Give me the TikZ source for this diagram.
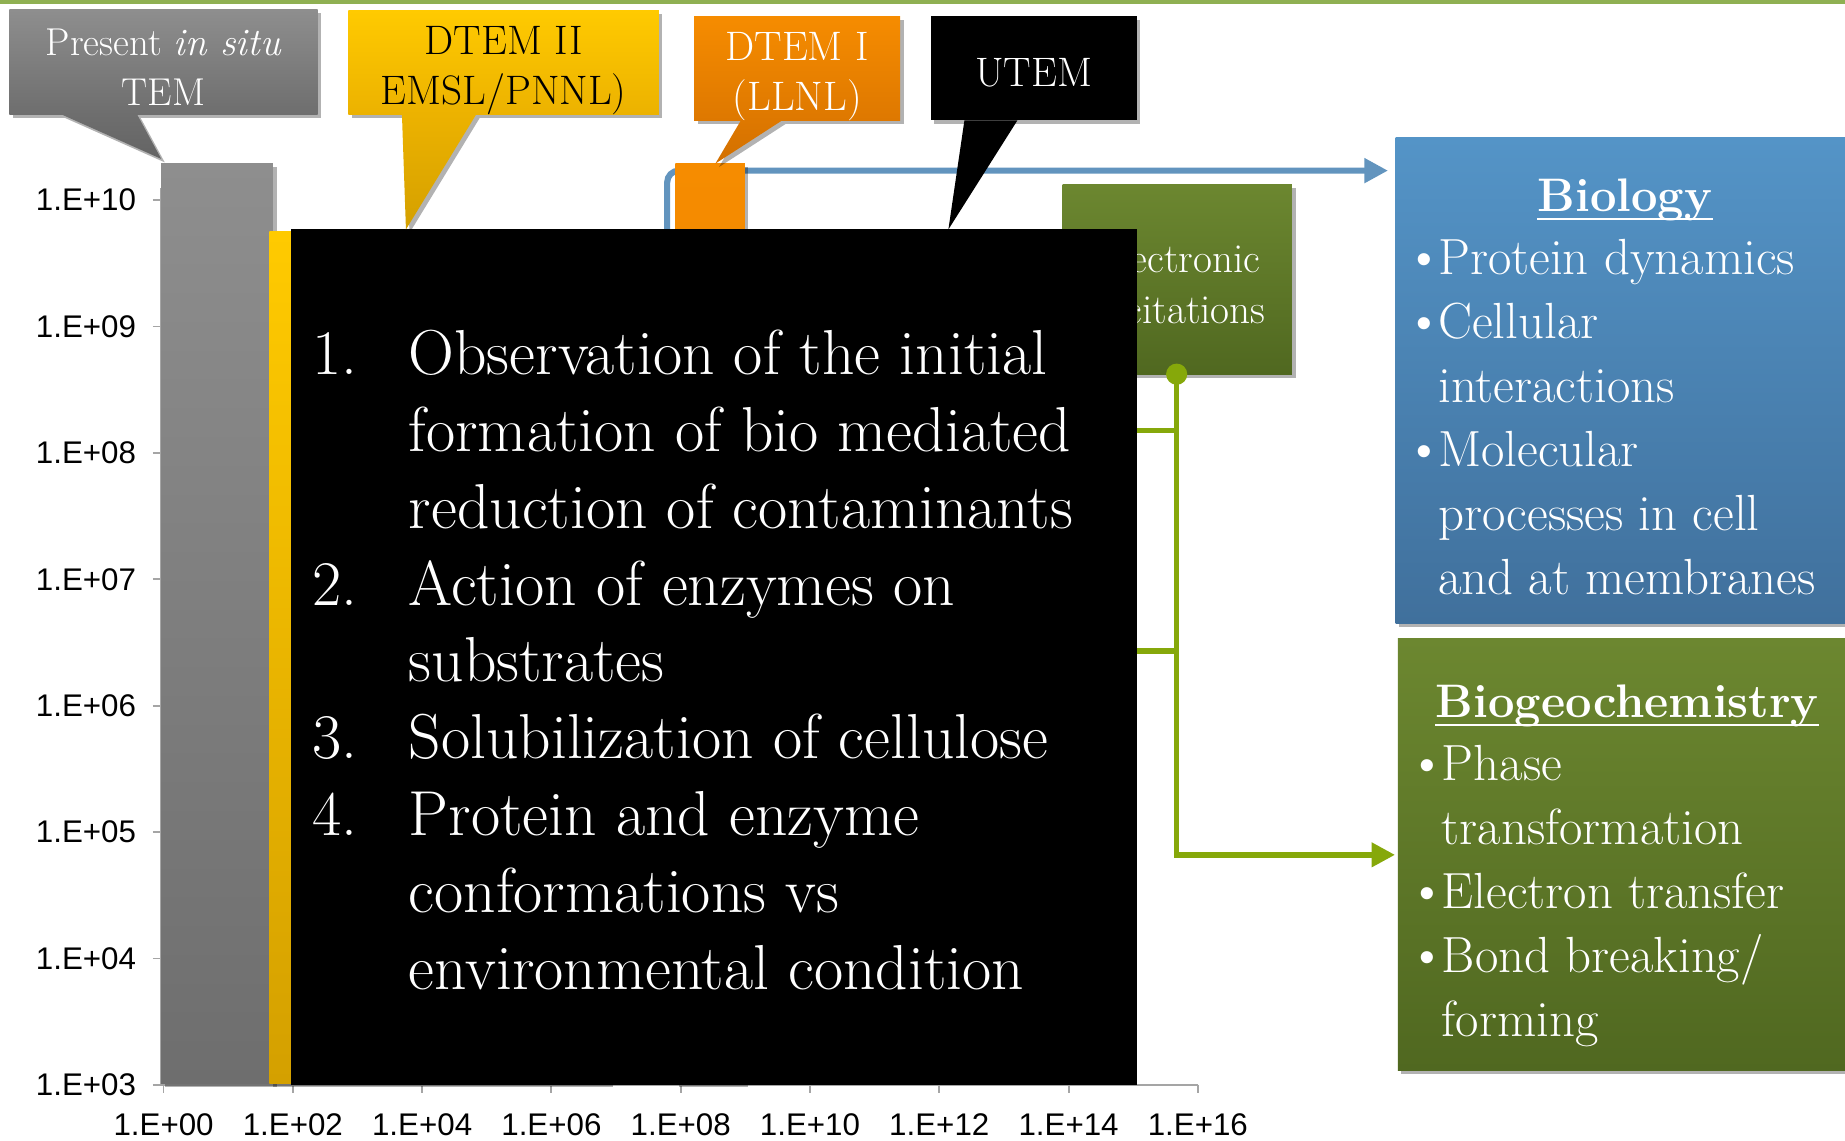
\documentclass[tikz,border=0pt]{standalone}
\usepackage{fontspec}
\newfontfamily\axisfont{Liberation Sans}
\usetikzlibrary{calc,arrows.meta,shadows}

\definecolor{topgreen}{RGB}{143,176,82}
\definecolor{grayT}{RGB}{142,142,142}
\definecolor{grayB}{RGB}{110,110,110}
\definecolor{grayP}{RGB}{100,100,100}
\definecolor{yelT}{RGB}{255,202,0}
\definecolor{yelB}{RGB}{236,178,0}
\definecolor{yelP}{RGB}{212,160,0}
\definecolor{orT}{RGB}{246,140,0}
\definecolor{orB}{RGB}{222,120,0}
\definecolor{orP}{RGB}{210,112,0}
\definecolor{bluel}{RGB}{98,148,190}
\definecolor{bioT}{RGB}{84,148,199}
\definecolor{bioB}{RGB}{64,112,156}
\definecolor{grnT}{RGB}{108,135,48}
\definecolor{grnB}{RGB}{80,104,32}
\definecolor{grnline}{RGB}{134,168,10}
\definecolor{axisgray}{RGB}{165,165,165}

\tikzset{
  shad/.style={drop shadow={shadow xshift=1.5pt,shadow yshift=-1.5pt,opacity=0.3,fill=black}},
  callout/.style={rectangle, inner sep=0pt, shad},
  callouttext/.style={inner sep=0pt, align=center, font=\fontsize{17.5}{21}\selectfont},
  axisline/.style={draw=axisgray, line width=0.8pt},
  axlab/.style={font=\axisfont\fontsize{13.3}{15}\selectfont, inner sep=0pt},
  blueconn/.style={draw=bluel, line width=2.6pt, rounded corners=5pt, -{Triangle[length=10pt,width=10pt]}},
  grnconn/.style={draw=grnline, line width=2.4pt},
  infobox/.style={rectangle, inner sep=0pt, shad},
  boxtitle/.style={anchor=base, inner sep=0pt, text=white, font=\fontsize{20}{24}\selectfont\bfseries},
  boxlist/.style={anchor=base west, inner sep=0pt, text=white, align=left, font=\fontsize{21.6}{27.2}\selectfont},
}

\newcommand{\bul}{\makebox[9.5pt][l]{{\axisfont\fontsize{19}{19}\selectfont •}}}

\begin{document}
\begin{tikzpicture}[x=0.5pt,y=-0.5pt]
\useasboundingbox (0,0) rectangle (1568,969);
\fill[white] (0,0) rectangle (1568,969);
\fill[topgreen] (0,0) rectangle (1568,3);

% ---- axes ----
\draw[axisline] (137,160) -- (137,922) -- (1018,922);
\foreach \i/\t in {0/00,1/02,2/04,3/06,4/08,5/10,6/12,7/14,8/16}{
  \pgfmathsetmacro\xx{139+109.875*\i}
  \draw[axisline] (\xx,922) -- (\xx,929);
  \node[axlab] (xl\i) at (\xx,956) {1.E+\t};
}
\foreach \i/\t in {0/10,1/09,2/08,3/07,4/06,5/05,6/04,7/03}{
  \pgfmathsetmacro\yy{170+107.43*\i}
  \draw[axisline] (130,\yy) -- (137,\yy);
  \node[axlab, anchor=east] (yl\i) at (116,\yy) {1.E+\t};
}

% ---- bars ----
\shade[top color=grayT, bottom color=grayB, shad] (137,139) rectangle (232,921);
\shade[top color=yelT, bottom color=yelP, shad] (229,197) rectangle (518,921);

% blue connector (behind orange bar)
\coordinate (bc) at (567,145);
\node[infobox, top color=bioT, bottom color=bioB, minimum width=193pt, minimum height=206.5pt] (bio) at (1379,323.5) {};
\draw[blueconn, shorten >=3pt] (bc |- 0,200) -- (bc) -- (bc -| bio.west);

\shade[top color=orT, bottom color=orB, shad] (574,139) rectangle (633,921);

% electronic excitations box
\node[infobox, top color=grnT, bottom color=grnB, minimum width=97.5pt, minimum height=80.5pt] (exc) at (1000.5,237.5) {};
\node[inner sep=0pt, text=white, align=center, font=\fontsize{17.5}{21.5}\selectfont] (exct) at (1000.5,241)
      {Electronic\\excitations};

% black box
\node[rectangle, fill=black, inner sep=0pt, minimum width=359.5pt, minimum height=363.5pt] (blk) at (606.5,558.5) {};
\node[anchor=base west, inner sep=0pt, text=white, font=\fontsize{27}{32.7}\selectfont] (lst) at (265,318)
{\begin{tabular}[t]{@{}l@{}l@{}}
\makebox[41pt][l]{1.} & Observation of the initial\\
 & formation of bio mediated\\
 & reduction of contaminants\\
\makebox[41pt][l]{2.} & Action of enzymes on\\
 & substrates\\
\makebox[41pt][l]{3.} & Solubilization of cellulose\\
\makebox[41pt][l]{4.} & Protein and enzyme\\
 & conformations vs\\
 & environmental condition
\end{tabular}};

% green connectors
\node[infobox, top color=grnT, bottom color=grnB, minimum width=192pt, minimum height=183.5pt] (bgc) at (1380,726.5) {};
\node[circle, fill=grnline, inner sep=0pt, minimum width=9pt, minimum height=8pt] (gdot) at (1000,318) {};
\coordinate (s1) at (1000,366);
\coordinate (s2) at (1000,553);
\draw[grnconn] (s1 -| blk.east) -- (s1);
\draw[grnconn] (s2 -| blk.east) -- (s2);
\draw[grnconn, -{Triangle[length=10pt,width=10pt]}, shorten >=1pt] (gdot.center) |- (bgc.west);

% ---- callouts ----
\node[callout, top color=grayT, bottom color=grayB, minimum width=131pt, minimum height=44.5pt] (gc) at (139,52.5) {};
\node[callouttext, text=white, font=\fontsize{16.5}{21}\selectfont] (gct) at (139,57) {Present \textit{in situ}\\TEM};
\coordinate (gtip) at (137,135);
\shade[top color=grayB, bottom color=grayP, shad] ($(gc.south west)+(45,0)$) -- (gtip) -- ($(gc.south west)+(109,0)$) -- cycle;

\node[callout, top color=yelT, bottom color=yelB, minimum width=132pt, minimum height=44pt] (yc) at (428,53) {};
\node[callouttext, text=black] (yct) at (428,60) {DTEM II\\EMSL/PNNL)};
\coordinate (ytip) at (345,195);
\shade[top color=yelB, bottom color=yelP, shad] ($(yc.south west)+(46,0)$) -- (ytip) -- ($(yc.south west)+(109,0)$) -- cycle;

\node[callout, top color=orT, bottom color=orB, minimum width=87.5pt, minimum height=44pt] (oc) at (677.5,58) {};
\node[callouttext, text=white] (oct) at (677.5,65) {DTEM I\\(LLNL)};
\coordinate (otip) at (608,139);
\shade[top color=orB, bottom color=orP, shad] ($(oc.south west)+(40,0)$) -- (otip) -- ($(oc.south west)+(75,0)$) -- cycle;

\node[callout, fill=black, minimum width=87.5pt, minimum height=44pt] (uc) at (878.5,58) {};
\node[callouttext, text=white] (uct) at (878.5,62) {UTEM};
\coordinate (utip) at (806,195);
\fill[black] ($(uc.south west)+(29,0)$) -- (utip) -- ($(uc.south west)+(74,0)$) -- cycle;

% ---- right boxes text ----
\node[boxtitle] (biot) at (1381,180) {Biology};
\draw[white, line width=1pt] ([yshift=-3pt]biot.base west) -- ([yshift=-3pt]biot.base east);
\node[boxlist] (biol) at (1203,233)
{\begin{tabular}[t]{@{}l@{}l@{}}
\bul & Protein dynamics\\
\bul & Cellular\\
 & interactions\\
\bul & Molecular\\
 & processes in cell\\
 & and at membranes
\end{tabular}};

\node[boxtitle] (bgct) at (1383,610) {Biogeochemistry};
\draw[white, line width=1pt] ([yshift=-3pt]bgct.base west) -- ([yshift=-3pt]bgct.base east);
\node[boxlist] (bgcl) at (1206,663)
{\begin{tabular}[t]{@{}l@{}l@{}}
\bul & Phase\\
 & transformation\\
\bul & Electron transfer\\
\bul & Bond breaking/\\
 & forming
\end{tabular}};
\end{tikzpicture}
\end{document}
